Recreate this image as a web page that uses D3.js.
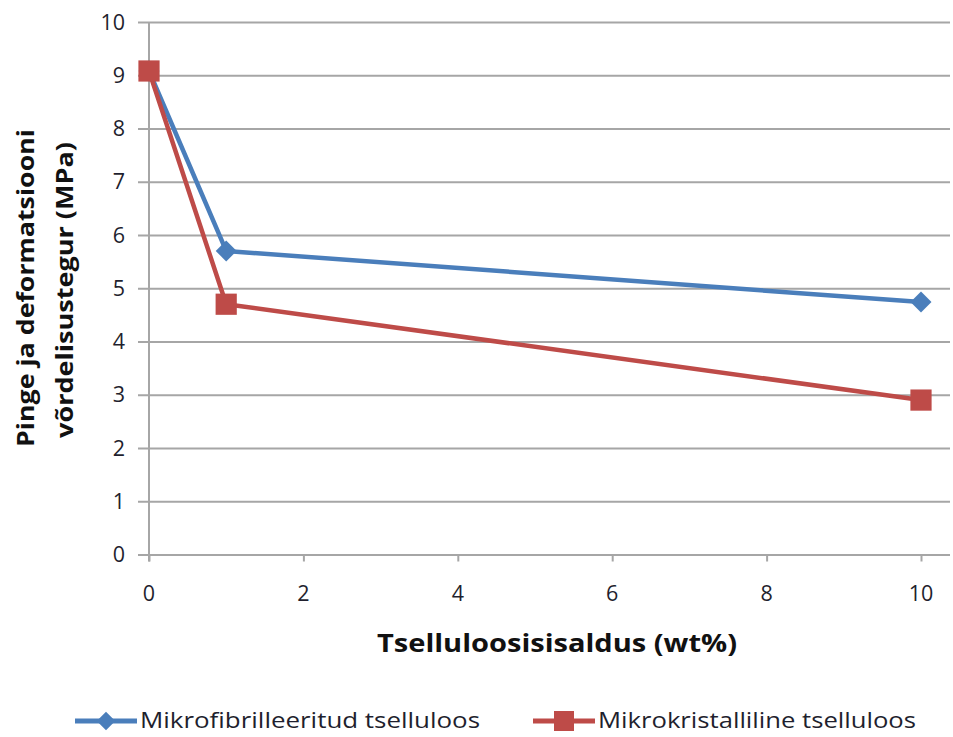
<!DOCTYPE html>
<html><head><meta charset="utf-8">
<script src="https://cdn.jsdelivr.net/npm/d3@7"></script>
<style>body{margin:0;background:#fff}svg{display:block}</style>
</head><body>
<svg id="c" width="953" height="737"></svg>
<script>
const xValues = [0, 1, 10];
const seriesNames = ["Mikrofibrilleeritud tselluloos", "Mikrokristalliline tselluloos"];
const mfcValues = [9.08, 5.70, 4.74];
const mccValues = [9.08, 4.70, 2.90];
const xTicks = [0, 2, 4, 6, 8, 10];
const yTicks = [0,1,2,3,4,5,6,7,8,9,10];
const colors = ["#4a7ebb", "#be4b48"];

const svg = d3.select("#c");
const font = "Open Sans, Noto Sans, sans-serif";
const x = d3.scaleLinear().domain([0,10]).range([149, 921]);
const y = d3.scaleLinear().domain([0,10]).range([554.5, 22]);

// gridlines
const gy = svg.append("g").attr("transform","translate(149,0)")
  .call(d3.axisLeft(y).tickValues(yTicks).tickSize(-(950-149)).tickSizeOuter(0).tickPadding(0).tickFormat(""));
gy.select(".domain").remove();
gy.selectAll(".tick line").attr("stroke","#a6a6a6").attr("stroke-width",2).attr("x1",-11);
// y labels
svg.append("g").selectAll("text").data(yTicks).join("text")
  .attr("x",125).attr("y",d=>y(d)).attr("dy","0.36em").attr("text-anchor","end")
  .attr("font-family",font).attr("font-size",21.5).attr("fill","#1f1f2e").text(d=>d);
// y axis line
svg.append("line").attr("x1",149).attr("x2",149).attr("y1",y(10)).attr("y2",y(0)+7)
  .attr("stroke","#a6a6a6").attr("stroke-width",2);
// x axis ticks
const gx = svg.append("g").attr("transform",`translate(0,${y(0)})`)
  .call(d3.axisBottom(x).tickValues(xTicks).tickSize(7).tickSizeOuter(0).tickFormat(""));
gx.select(".domain").remove();
gx.selectAll(".tick line").attr("stroke","#a6a6a6").attr("stroke-width",2);
svg.append("g").selectAll("text").data(xTicks).join("text")
  .attr("x",d=>x(d)).attr("y",593).attr("dy","0.36em").attr("text-anchor","middle")
  .attr("font-family",font).attr("font-size",21.5).attr("fill","#1f1f2e").text(d=>d);

// titles
svg.append("text").attr("x",557).attr("y",643).attr("dy","0.36em").attr("text-anchor","middle")
  .attr("font-family",font).attr("font-weight","bold").attr("font-size",25)
  .attr("textLength",360).attr("lengthAdjust","spacingAndGlyphs")
  .attr("fill","#111").text("Tselluloosisisaldus (wt%)");
const yt = svg.append("g").attr("transform","translate(0,288) rotate(-90)");
yt.append("text").attr("x",0).attr("y",26).attr("dy","0.36em").attr("text-anchor","middle")
  .attr("font-family",font).attr("font-weight","bold").attr("font-size",23)
  .attr("textLength",318).attr("lengthAdjust","spacingAndGlyphs")
  .attr("fill","#111").text("Pinge ja deformatsiooni");
yt.append("text").attr("x",-2).attr("y",65).attr("dy","0.36em").attr("text-anchor","middle")
  .attr("font-family",font).attr("font-weight","bold").attr("font-size",23)
  .attr("textLength",296).attr("lengthAdjust","spacingAndGlyphs")
  .attr("fill","#111").text("võrdelisustegur (MPa)");

// series
const series = [mfcValues, mccValues];
const line = d3.line().x((d,i)=>x(xValues[i])).y(d=>y(d));
const diamond = d3.symbol().type(d3.symbolDiamond2).size(280);
const square = d3.symbol().type(d3.symbolSquare).size(450);
series.forEach((vals,si)=>{
  svg.append("path").attr("d",line(vals)).attr("fill","none")
    .attr("stroke",colors[si]).attr("stroke-width",4.5).attr("stroke-linejoin","round");
});
series.forEach((vals,si)=>{
  svg.append("g").selectAll("path").data(vals).join("path")
    .attr("transform",(d,i)=>`translate(${x(xValues[i])},${y(d)})`)
    .attr("d", si===0 ? diamond() : square()).attr("fill",colors[si]);
});

// legend
const legX = [75, 533];
const legW = [340, 318];
seriesNames.forEach((n,si)=>{
  const lx = legX[si], ly = 721;
  svg.append("line").attr("x1",lx).attr("x2",lx+62).attr("y1",ly).attr("y2",ly)
    .attr("stroke",colors[si]).attr("stroke-width",5);
  svg.append("path").attr("transform",`translate(${lx+31},${ly})`)
    .attr("d", si===0 ? d3.symbol().type(d3.symbolDiamond2).size(220)() : d3.symbol().type(d3.symbolSquare).size(400)())
    .attr("fill",colors[si]);
  svg.append("text").attr("x",lx+65).attr("y",ly).attr("dy","0.34em")
    .attr("font-family",font).attr("font-size",21.5).attr("fill","#1f1f2e")
    .attr("textLength", legW[si]).attr("lengthAdjust","spacingAndGlyphs")
    .text(n);
});
</script>
</body></html>
